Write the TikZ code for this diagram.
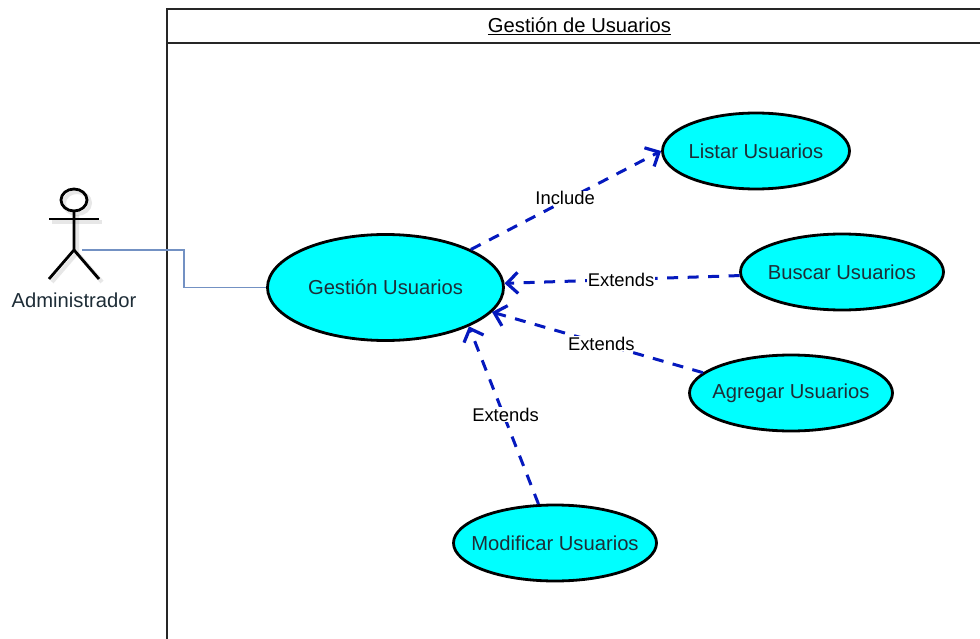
\documentclass[tikz,border=0pt]{standalone}
\usepackage{fontspec}
\setmainfont{Liberation Sans}
\usetikzlibrary{shapes.geometric,arrows.meta}
\definecolor{ucfill}{RGB}{0,255,255}
\definecolor{dep}{RGB}{5,25,190}
\definecolor{assoc}{RGB}{115,145,195}
\definecolor{uctext}{RGB}{30,45,55}
\tikzset{
  usecase/.style={ellipse,draw=black,line width=2.8pt,fill=ucfill,inner xsep=-40pt,inner ysep=-8pt,text=uctext,font=\fontsize{20.2}{22}\selectfont},
  deparrow/.style={draw=dep,line width=3pt,dash pattern=on 11pt off 9.5pt,-{Straight Barb[length=11pt,width=21pt,line width=3.2pt]}},
  deplabel/.style={fill=white,inner sep=0.5pt,text=black,font=\fontsize{18.4}{20}\selectfont},
  frameline/.style={draw=black!85,line width=1.6pt},
  actorline/.style={draw=black,line width=2.8pt},
  actorshadow/.style={draw=black!30,line width=4pt,opacity=.3}
}
\begin{document}
\begin{tikzpicture}[x=1pt,y=-1pt]
\useasboundingbox (0,0) rectangle (980,639);
\fill[white] (0,0) rectangle (980,639);
% frame
\draw[frameline] (167,639) -- (167,9) -- (980,9);
\draw[frameline] (167,43) -- (980,43);
\node[text=black,font=\fontsize{20.2}{22}\selectfont] (title) at (579.5,26.5) {\underline{Gestión de Usuarios}};
% actor shadow
\draw[actorshadow] (77,203) ellipse (13 and 11);
\draw[actorshadow] (52,222) -- (102,222);
\draw[actorshadow] (77,215) -- (77,253) -- (52,282);
\draw[actorshadow] (77,253) -- (102,282);
% actor
\draw[actorline] (74,200) ellipse (13 and 11);
\draw[actorline] (49,219) -- (99,219);
\draw[actorline] (74,211) -- (74,250) -- (49,279);
\draw[actorline] (74,250) -- (99,279);
\coordinate (actorhip) at (82,250);
\node[text=uctext,font=\fontsize{20.2}{22}\selectfont] (admin) at (74,300) {Administrador};
% use cases
\node[usecase,minimum width=236pt,minimum height=106pt] (gestion) at (385.5,287.5) {Gestión Usuarios};
\node[usecase,minimum width=187pt,minimum height=76pt] (listar) at (756,151) {Listar Usuarios};
\node[usecase,minimum width=203pt,minimum height=76pt] (buscar) at (842,272) {Buscar Usuarios};
\node[usecase,minimum width=203pt,minimum height=76pt] (agregar) at (791,393) {Agregar Usuarios};
\node[usecase,minimum width=203pt,minimum height=76pt] (modificar) at (555,543) {Modificar Usuarios};
% association
\draw[draw=assoc,line width=1.5pt] (actorhip) -- (184,250) -- (184,287.5) -- (gestion.west);
% dependencies
\draw[deparrow] (gestion.{24}) -- node[deplabel,pos=.49,yshift=3pt,xshift=1pt] {Include} (listar.west);
\draw[deparrow] (buscar.{182}) -- node[deplabel,pos=.504] {Extends} (gestion.{2});
\draw[deparrow] (agregar.{167}) -- node[deplabel,pos=.482] {Extends} (gestion.{-13});
\draw[deparrow] (modificar.{113}) -- node[deplabel,pos=.503,xshift=2pt] {Extends} (gestion.{-25});
\end{tikzpicture}
\end{document}
